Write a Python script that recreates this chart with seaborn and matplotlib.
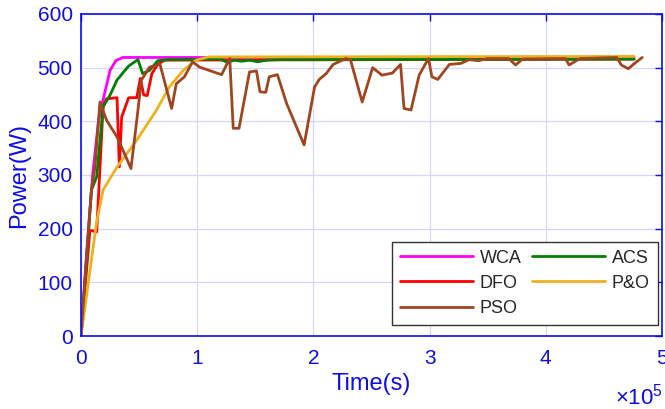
import numpy as np
import pandas as pd
import matplotlib
matplotlib.use("Agg")
import matplotlib.pyplot as plt
import seaborn as sns
from matplotlib.ticker import FuncFormatter, MultipleLocator

# time in units of 1e5 s, power in W
wca_t = [0, 0.05, 0.10, 0.15, 0.19, 0.25, 0.30, 0.36, 4.76]
wca_p = [0, 160, 300, 400, 440, 495, 513, 519, 519]

acs_t = [0, 0.09, 0.135, 0.19, 0.25, 0.31, 0.41, 0.49, 0.53, 0.59, 0.66, 0.76, 1.2, 1.26, 1.32, 1.38, 1.45, 1.52, 1.6, 1.7, 4.76]
acs_p = [0, 272, 297, 427, 449, 477, 503, 515, 489, 495, 513, 515, 516, 510, 514, 512, 514, 511, 514, 515, 516]

dfo_t = [0, 0.077, 0.135, 0.19, 0.22, 0.31, 0.33, 0.35, 0.41, 0.48, 0.51, 0.54, 0.57, 0.61, 0.66, 0.72, 4.76]
dfo_p = [0, 197, 194, 427, 442, 444, 315, 408, 444, 444, 480, 449, 448, 489, 506, 514, 516]

po_t = [0, 0.135, 0.19, 0.31, 0.48, 0.65, 0.76, 0.88, 0.99, 1.1, 4.76]
po_p = [0, 213, 272, 315, 365, 421, 464, 495, 514, 520, 521]

pso_t = [0, 0.09, 0.12, 0.163, 0.22, 0.31, 0.38, 0.43, 0.48, 0.52, 0.59, 0.68, 0.78, 0.82, 0.89, 0.96,
         1.02, 1.21, 1.28, 1.31, 1.36, 1.45, 1.51, 1.54, 1.59, 1.62, 1.69, 1.77, 1.92, 2.01, 2.05, 2.11,
         2.17, 2.28, 2.32, 2.42, 2.51, 2.59, 2.68, 2.75, 2.78, 2.84, 2.91, 2.99, 3.02, 3.07, 3.17, 3.27,
         3.34, 3.42, 3.5, 3.68, 3.74, 3.80, 4.17, 4.2, 4.27, 4.3, 4.61, 4.65, 4.71, 4.77, 4.83]
pso_p = [0, 272, 315, 436, 402, 371, 337, 312, 402, 477, 501, 506, 424, 470, 483, 511,
         501, 487, 517, 387, 387, 492, 494, 455, 454, 483, 487, 433, 356, 464, 478, 489,
         506, 517, 514, 436, 500, 486, 490, 506, 424, 421, 486, 517, 483, 478, 506, 508,
         515, 513, 517, 517, 505, 516, 517, 505, 514, 517, 519, 505, 498, 509, 519]

series = {"WCA": (wca_t, wca_p), "DFO": (dfo_t, dfo_p), "PSO": (pso_t, pso_p),
          "ACS": (acs_t, acs_p), "P&O": (po_t, po_p)}
colors = {"WCA": "#ff00ff", "DFO": "#ff0000", "PSO": "#a0461e", "ACS": "#007f00", "P&O": "#edb120"}

rows = []
for name, (t, p) in series.items():
    for ti, pi in zip(t, p):
        rows.append({"Time": ti * 1e5, "Power": pi, "Method": name})
df = pd.DataFrame(rows)

sns.set_theme(style="white")
plt.rcParams["font.family"] = ["Liberation Sans", "DejaVu Sans"]
plt.rcParams["mathtext.fontset"] = "custom"
plt.rcParams["mathtext.rm"] = "Liberation Sans"

axc = "#0d0de6"
fig = plt.figure(figsize=(6.65, 4.09), dpi=100)
ax = fig.add_axes([81 / 665, 1 - 336 / 409, (662 - 81) / 665, (336 - 14) / 409])

order = ["WCA", "DFO", "PSO", "ACS", "P&O"]
sns.lineplot(data=df, x="Time", y="Power", hue="Method",
             hue_order=order, palette=colors,
             estimator=None, sort=False, linewidth=2, ax=ax)

zmap = {"WCA": 2.1, "DFO": 2.2, "ACS": 2.3, "P&O": 2.4, "PSO": 2.5}
for line, name in zip(ax.get_lines(), order):
    line.set_zorder(zmap[name])

ax.set_xlim(0, 5e5)
ax.set_ylim(0, 600)
ax.xaxis.set_major_locator(MultipleLocator(1e5))
ax.yaxis.set_major_locator(MultipleLocator(100))
ax.xaxis.set_major_formatter(FuncFormatter(lambda v, _: f"{v/1e5:g}"))
ax.grid(True, color="#d6d6fb", linewidth=0.9)
for s in ax.spines.values():
    s.set_color(axc)
    s.set_linewidth(1.2)
ax.tick_params(direction="in", top=True, right=True, colors=axc, labelsize=15,
               length=5, width=1.0)
ax.tick_params(axis="x", pad=9)
ax.tick_params(axis="y", pad=6)
ax.set_xlabel("Time(s)", color=axc, fontsize=17, labelpad=4)
ax.set_ylabel("Power(W)", color=axc, fontsize=17, labelpad=5)
fig.text(663 / 665, 1 - 404 / 409, r"$\times\mathregular{10^{5}}$", color=axc, fontsize=16,
         ha="right", va="baseline")

leg = ax.legend(loc="lower right", ncol=2, fontsize=13, handlelength=4.0,
                bbox_to_anchor=(658 / 665, 1 - 325 / 409), bbox_transform=fig.transFigure,
                frameon=True, fancybox=False, edgecolor="#333333", framealpha=1,
                borderaxespad=0, columnspacing=0.6, labelspacing=0.45, handletextpad=0.4,
                borderpad=0.45)
leg.get_frame().set_linewidth(1.0)
for h in leg.get_lines():
    h.set_linewidth(2)

fig.savefig("out.png", dpi=100)
